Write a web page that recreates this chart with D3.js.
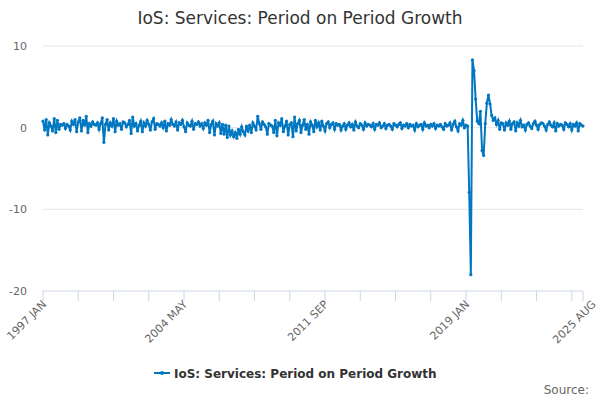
<!DOCTYPE html>
<html>
<head>
<meta charset="utf-8">
<script src="https://cdn.jsdelivr.net/npm/d3@7"></script>
<style>
  body { margin: 0; background: #fff; }
  svg { font-family: "DejaVu Sans", sans-serif; }
</style>
</head>
<body>
<svg id="chart" width="600" height="400"></svg>
<script>
// monthly values, 1997 JAN .. 2025 AUG
var values = [
  0.8, -0.3, 1.0, -0.9, 0.6, 0.2, -0.4, 1.1, -0.6, 0.9, -0.2, 0.4,
  0.3, 0.5, -0.1, 0.4, 0.2, -0.3, 0.8, 0.4, 1.0, -0.5, 0.7, 1.2,
  -0.4, 0.9, 0.3, 1.4, -0.6, 0.5, 0.2, 0.7, 0.4, 0.3, 0.6, -0.2,
  0.5, 1.2, -1.8, 0.4, 1.0, -0.3, 0.6, 0.2, 1.1, -0.5, 0.8, 0.3,
  0.5, -0.2, 0.7, 0.6, 0.1, 0.4, 0.9, -0.7, 1.3, 0.2, 0.5, -0.4,
  0.3, 0.8, -0.5, 0.6, 0.2, 0.9, 0.4, -0.3, 0.7, 1.1, -0.2, 0.5,
  0.4, 0.2, 0.6, 0.0, 0.8, -0.4, 0.5, 0.3, 1.0, 0.4, 0.2, 0.7,
  -0.3, 0.6, 0.4, 0.9, 0.1, -0.5, 0.6, 0.3, 0.2, 0.8, -0.2, 0.5,
  0.4, 0.7, 0.2, 0.5, -0.1, 0.6, 0.3, 0.9, -0.6, 0.4, 0.8, -0.9,
  0.5, 0.2, 0.6, -0.7, 0.4, -0.8, 0.3, -1.2, 0.2, -0.9, -0.4, -1.1,
  -0.6, -1.3, -0.2, -0.8, 0.1, -0.5, -0.9, 0.2, -0.4, 0.3, -0.6, 0.6,
  0.2, -0.3, 1.4, 0.5, -0.2, 0.7, 0.4, 0.1, -0.8, 0.5, 0.3, 0.2,
  -0.6, 0.9, -1.0, 0.6, 0.3, 1.1, -0.5, 0.2, 0.8, -0.9, 0.4, 0.6,
  -1.1, 1.3, -0.4, 0.5, 0.9, -0.6, 0.3, 1.0, -0.2, 0.4, -0.8, 0.7,
  0.3, -0.5, 0.9, 0.1, 0.6, -0.3, 0.8, 0.2, -0.4, 0.5, 0.7, 0.0,
  0.4, 0.6, -0.2, 0.5, 0.3, 0.4, -0.3, 0.2, 0.5, -0.2, 0.3, 0.6,
  0.1, 0.4, -0.3, 0.7, 0.2, 0.0, 0.5, 0.3, -0.2, 0.6, 0.2, 0.4,
  0.3, 0.1, 0.5, -0.2, 0.4, 0.3, 0.6, 0.0, 0.2, 0.5, -0.1, 0.3,
  0.4, 0.2, -0.2, 0.5, 0.3, 0.1, 0.4, 0.6, -0.1, 0.3, 0.2, 0.5,
  0.0, 0.4, 0.2, 0.3, -0.3, 0.5, 0.1, 0.3, 0.4, -0.2, 0.6, 0.2,
  0.3, 0.0, 0.4, 0.2, 0.5, -0.1, 0.3, 0.2, 0.4, 0.1, -0.2, 0.5,
  0.2, 0.3, 0.6, -0.3, 0.4, 0.8, 0.1, -0.4, 0.5, 0.3, 0.9, 0.0,
  0.3, 0.2, -7.9, -18.0, 8.3, 7.0, 3.5, 0.8, 0.5, 2.0, -2.8, -3.4,
  0.5, 3.0, 4.0, 2.9, 1.5, 0.9, 1.2, 0.4, 0.9, -0.2, 0.6, 0.5,
  -0.3, 0.6, 0.3, 0.8, -0.2, 0.5, 0.7, -0.4, 0.6, 0.2, 0.9, 0.1,
  0.3, -0.3, 0.4, 0.6, 0.2, -0.1, 0.5, 0.8, 0.3, -0.2, 0.4, 0.6,
  0.5, 0.2, -0.3, 0.4, 0.7, 0.3, 0.1, 0.6, -0.4, 0.5, 0.2, 0.4,
  0.3, -0.2, 0.6, 0.4, 0.1, 0.5, -0.3, 0.4, 0.2, 0.6, -0.4, 0.5,
  0.3, 0.2
];
var yTicks = [10, 0, -10, -20];
var labelMonths = [0, 88, 176, 264, 343];
var monthNames = ["JAN","FEB","MAR","APR","MAY","JUN","JUL","AUG","SEP","OCT","NOV","DEC"];
var seriesName = "IoS: Services: Period on Period Growth";

function monthLabel(i) {
  return (1997 + Math.floor(i / 12)) + " " + monthNames[i % 12];
}

var svg = d3.select("#chart");
var plotLeft = 43, plotRight = 583, plotTop = 46, plotBottom = 291;
var color = "#0077c0";

var x = d3.scaleLinear().domain([0, values.length - 1]).range([plotLeft, plotRight]);
var y = d3.scaleLinear().domain([-20, 10]).range([plotBottom, plotTop]);

svg.append("text")
  .attr("x", 300).attr("y", 24)
  .attr("text-anchor", "middle")
  .attr("fill", "#333").attr("font-size", "17px")
  .text("IoS: Services: Period on Period Growth");

// grid lines
svg.selectAll(".grid")
  .data(yTicks.filter(function (d) { return d !== -20; }))
  .enter().append("line")
  .attr("x1", plotLeft).attr("x2", plotRight)
  .attr("y1", function (d) { return y(d); })
  .attr("y2", function (d) { return y(d); })
  .attr("stroke", "#e6e6e6");

// y labels
svg.selectAll(".ylab")
  .data(yTicks)
  .enter().append("text")
  .attr("x", 27).attr("y", function (d) { return y(d) + 4; })
  .attr("text-anchor", "end")
  .attr("fill", "#666").attr("font-size", "11px")
  .text(function (d) { return d; });

// x axis
var tickMonths = d3.range(0, values.length, 22).concat([values.length - 1]);
var gx = svg.append("g").attr("transform", "translate(0," + plotBottom + ")");
gx.append("line").attr("x1", plotLeft).attr("x2", plotRight).attr("stroke", "#ccd6eb");
gx.selectAll(".tick")
  .data(tickMonths)
  .enter().append("line")
  .attr("x1", function (d) { return x(d); })
  .attr("x2", function (d) { return x(d); })
  .attr("y1", 0).attr("y2", 10)
  .attr("stroke", "#ccd6eb");
gx.selectAll(".xlab")
  .data(labelMonths)
  .enter().append("text")
  .attr("transform", function (d) {
    return "translate(" + (x(d) + 4) + ",14) rotate(-45)";
  })
  .attr("text-anchor", "end")
  .attr("fill", "#666").attr("font-size", "11px")
  .text(monthLabel);

// series
var line = d3.line()
  .x(function (d, i) { return x(i); })
  .y(function (d) { return y(d); });

svg.append("path")
  .datum(values)
  .attr("d", line)
  .attr("fill", "none")
  .attr("stroke", color)
  .attr("stroke-width", 2);

svg.selectAll(".pt")
  .data(values)
  .enter().append("circle")
  .attr("cx", function (d, i) { return x(i); })
  .attr("cy", function (d) { return y(d); })
  .attr("r", 1.6)
  .attr("fill", color);

// legend
var lg = svg.append("g").attr("transform", "translate(154,373)");
lg.append("line").attr("x1", 0).attr("x2", 16).attr("stroke", color).attr("stroke-width", 2);
lg.append("circle").attr("cx", 8).attr("r", 2).attr("fill", color);
lg.append("text")
  .attr("x", 20).attr("y", 5)
  .attr("fill", "#333").attr("font-size", "12px").attr("font-weight", "bold")
  .text(seriesName);

svg.append("text")
  .attr("x", 589).attr("y", 394)
  .attr("text-anchor", "end")
  .attr("fill", "#666").attr("font-size", "12px")
  .text("Source:");
</script>
</body>
</html>
